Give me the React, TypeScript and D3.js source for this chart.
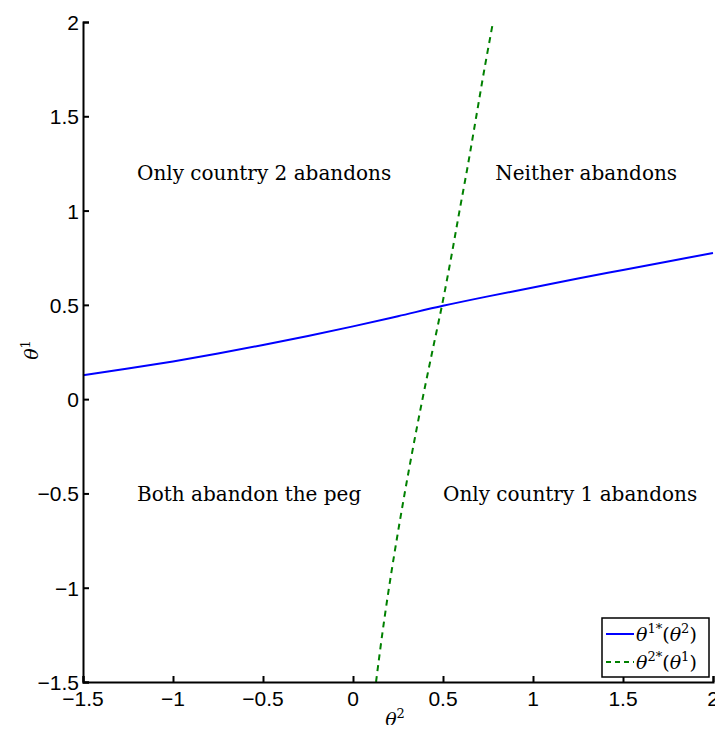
import React, { useRef, useEffect } from 'react';
import * as d3 from 'd3';

// theta^2 grid and the best-response theta^1*(theta^2)
const theta2Grid = [-1.5, -1.25, -1, -0.75, -0.5, -0.25, 0, 0.25, 0.5, 0.75, 1, 1.25, 1.5, 1.75, 2];
const theta1Star = [0.127, 0.162, 0.2, 0.242, 0.287, 0.335, 0.386, 0.44, 0.495, 0.545, 0.592, 0.64, 0.685, 0.73, 0.775];

// theta^1 grid and theta^2*(theta^1)
const theta1Grid = [-1.5, -1.25, -1, -0.75, -0.5, -0.25, 0, 0.25, 0.5, 0.75, 1, 1.25, 1.5, 1.75, 2];
const theta2Star = [0.128, 0.162, 0.2, 0.242, 0.287, 0.335, 0.386, 0.44, 0.495, 0.545, 0.592, 0.64, 0.685, 0.73, 0.778];

const xTicks = [-1.5, -1, -0.5, 0, 0.5, 1, 1.5, 2];
const yTicks = [-1.5, -1, -0.5, 0, 0.5, 1, 1.5, 2];

const regionLabels = [
  { text: 'Only country 2 abandons', x: -1.2, y: 1.18 },
  { text: 'Neither abandons', x: 0.79, y: 1.18 },
  { text: 'Both abandon the peg', x: -1.2, y: -0.52 },
  { text: 'Only country 1 abandons', x: 0.5, y: -0.52 },
];

const W = 723;
const H = 733;

const fmt = (v: number) => String(v).replace('-', '\u2212');

const App = () => {
  const ref = useRef<SVGSVGElement>(null);

  useEffect(() => {
    const margin = { top: 22, right: 10, bottom: 51, left: 83 };
    const svg = d3.select(ref.current);
    svg.selectAll('*').remove();

    const x = d3.scaleLinear().domain([-1.5, 2]).range([margin.left, W - margin.right]);
    const y = d3.scaleLinear().domain([-1.5, 2]).range([H - margin.bottom, margin.top]);

    const tickFont = '"Liberation Sans", Arial, sans-serif';
    const serif = '"DejaVu Serif", "Liberation Serif", serif';

    // curves
    const blue = d3.line<number>()
      .x((_, i) => x(theta2Grid[i]))
      .y(d => y(d))
      .curve(d3.curveCatmullRom);
    svg.append('path')
      .datum(theta1Star)
      .attr('d', blue)
      .attr('fill', 'none')
      .attr('stroke', '#0000ff')
      .attr('stroke-width', 2);

    const green = d3.line<number>()
      .x(d => x(d))
      .y((_, i) => y(theta1Grid[i]))
      .curve(d3.curveCatmullRom);
    svg.append('path')
      .datum(theta2Star)
      .attr('d', green)
      .attr('fill', 'none')
      .attr('stroke', '#008000')
      .attr('stroke-width', 2)
      .attr('stroke-dasharray', '6,5');

    // axes, MATLAB style: ticks pointing in
    svg.append('g')
      .attr('transform', `translate(0,${y(-1.5)})`)
      .call(d3.axisTop(x).tickValues(xTicks).tickFormat(() => '').tickSizeOuter(0).tickSize(6))
      .call(g => g.select('.domain').attr('stroke', '#000').attr('stroke-width', 2))
      .call(g => g.selectAll('.tick line').attr('stroke', '#000').attr('stroke-width', 2));

    svg.append('g')
      .attr('transform', `translate(${x(-1.5)},0)`)
      .call(d3.axisRight(y).tickValues(yTicks).tickFormat(() => '').tickSizeOuter(0).tickSize(6))
      .call(g => g.select('.domain').attr('stroke', '#000').attr('stroke-width', 2))
      .call(g => g.selectAll('.tick line').attr('stroke', '#000').attr('stroke-width', 2));

    svg.append('g')
      .selectAll('text')
      .data(xTicks)
      .join('text')
      .attr('x', d => x(d))
      .attr('y', y(-1.5) + 24)
      .attr('text-anchor', 'middle')
      .attr('font-family', tickFont)
      .attr('font-size', 21)
      .text(d => fmt(d));

    svg.append('g')
      .selectAll('text')
      .data(yTicks)
      .join('text')
      .attr('x', x(-1.5) - 4)
      .attr('y', d => y(d) + 8)
      .attr('text-anchor', 'end')
      .attr('font-family', tickFont)
      .attr('font-size', 21)
      .text(d => fmt(d));

    // region labels
    svg.append('g')
      .selectAll('text')
      .data(regionLabels)
      .join('text')
      .attr('x', d => x(d.x))
      .attr('y', d => y(d.y) + 3.5)
      .attr('font-family', serif)
      .attr('font-size', 20)
      .text(d => d.text);

    // axis labels
    const xl = svg.append('text')
      .attr('x', 395)
      .attr('y', 726)
      .attr('text-anchor', 'middle')
      .attr('font-family', serif)
      .attr('font-style', 'italic')
      .attr('font-size', 19);
    xl.append('tspan').text('\u03b8');
    xl.append('tspan').attr('dy', -8).attr('font-size', 13).attr('font-style', 'normal').text('2');

    const yl = svg.append('text')
      .attr('transform', 'translate(38,350) rotate(-90)')
      .attr('text-anchor', 'middle')
      .attr('font-family', serif)
      .attr('font-style', 'italic')
      .attr('font-size', 19);
    yl.append('tspan').text('\u03b8');
    yl.append('tspan').attr('dy', -8).attr('font-size', 13).attr('font-style', 'normal').text('1');

    // legend
    const lg = svg.append('g').attr('transform', 'translate(602,618)');
    lg.append('rect')
      .attr('width', 107)
      .attr('height', 59)
      .attr('fill', '#fff')
      .attr('stroke', '#000')
      .attr('stroke-width', 1.5);
    const entries = [
      { sup1: '1*', sup2: '2', color: '#0000ff', dash: null },
      { sup1: '2*', sup2: '1', color: '#008000', dash: '5,4' },
    ];
    entries.forEach((e, i) => {
      const cy = 16 + i * 28;
      lg.append('line')
        .attr('x1', 4).attr('x2', 32)
        .attr('y1', cy).attr('y2', cy)
        .attr('stroke', e.color)
        .attr('stroke-width', 2)
        .attr('stroke-dasharray', e.dash);
      const t = lg.append('text')
        .attr('x', 34)
        .attr('y', cy + 7)
        .attr('font-family', serif)
        .attr('font-size', 19);
      t.append('tspan').attr('font-style', 'italic').text('\u03b8');
      t.append('tspan').attr('dy', -8).attr('font-size', 13).text(e.sup1);
      t.append('tspan').attr('dy', 8).text('(');
      t.append('tspan').attr('font-style', 'italic').text('\u03b8');
      t.append('tspan').attr('dy', -8).attr('font-size', 13).text(e.sup2);
      t.append('tspan').attr('dy', 8).text(')');
    });
  }, []);

  return <svg ref={ref} width={W} height={H} style={{ display: 'block', margin: -8 }} />;
};

export default App;
